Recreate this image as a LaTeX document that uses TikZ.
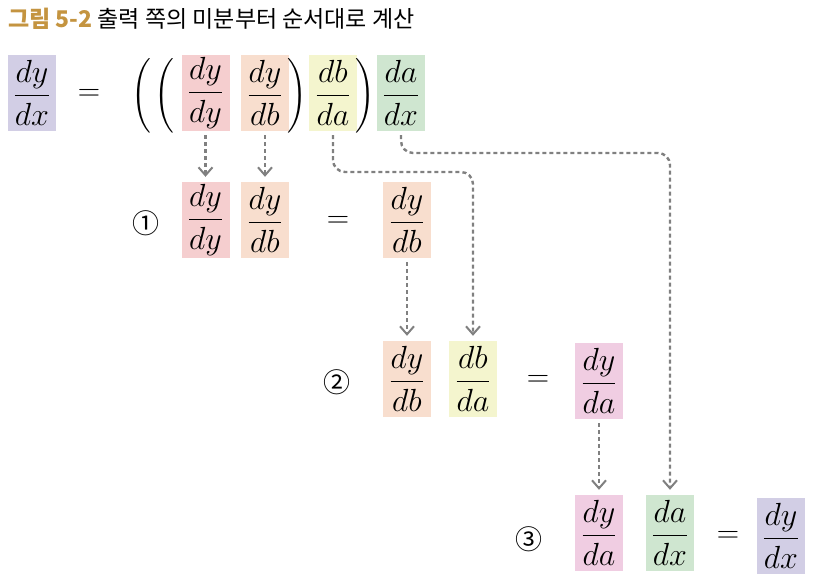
\RequirePackage{fix-cm}
\documentclass[tikz,border=0pt]{standalone}
\usepackage{amsmath}
\usepackage{fontspec}
\newfontfamily\kofont{Noto Sans CJK KR}
\usetikzlibrary{arrows.meta}
\definecolor{titlegold}{RGB}{196,148,64}
\definecolor{cdx}{RGB}{210,206,229}
\definecolor{cdy}{RGB}{245,206,207}
\definecolor{cdb}{RGB}{248,222,206}
\definecolor{cda}{RGB}{244,245,206}
\definecolor{cax}{RGB}{207,230,208}
\definecolor{cya}{RGB}{240,205,226}
\definecolor{flowgray}{RGB}{128,128,128}
\begin{document}
\begin{tikzpicture}[
    x=1pt, y=-1pt,
    frac/.style={minimum width=48pt, minimum height=76pt, inner sep=0pt,
      font=\fontsize{32}{38}\selectfont},
    eqsign/.style={inner sep=0pt, font=\fontsize{31}{36}\selectfont},
    paren/.style={inner sep=0pt, font=\fontsize{30}{34}\selectfont},
    stepno/.style={inner sep=0pt, font=\kofont\fontsize{27}{30}\selectfont},
    flow/.style={draw=flowgray, line width=2.4pt, dash pattern=on 4pt off 3pt,
      rounded corners=12pt, shorten <=4pt, shorten >=5pt,
      -{Straight Barb[length=8pt,width=14pt,line width=2pt]}}
  ]
    \useasboundingbox (0,0) rectangle (815,584);
    % title
    \node[anchor=base west, inner sep=0pt, font=\kofont\fontsize{23}{26}\selectfont]
      (title) at (8,27) {\textcolor{titlegold}{\bfseries 그림 5-2} 출력 쪽의 미분부터 순서대로 계산};

    % row 0: whole chain
    \node[frac, fill=cdx] (r0dx) at (32,93) {$\dfrac{dy}{dx}$};
    \node[eqsign] (r0eq) at (89,95) {$=$};
    \node[paren] (p1) at (141,96) {$\biggl($};
    \node[paren] (p2) at (164,96) {$\biggl($};
    \node[frac, fill=cdy] (r0dy) at (205.5,93) {$\dfrac{dy}{dy}$};
    \node[frac, fill=cdb] (r0db) at (265,93) {$\dfrac{dy}{db}$};
    \node[paren] (p3) at (297,96) {$\biggr)$};
    \node[frac, fill=cda] (r0da) at (333,93) {$\dfrac{db}{da}$};
    \node[paren] (p4) at (365,96) {$\biggr)$};
    \node[frac, fill=cax] (r0ax) at (401,93) {$\dfrac{da}{dx}$};

    % row 1
    \node[stepno] (s1) at (146,223) {①};
    \node[frac, fill=cdy] (r1dy) at (205.5,220) {$\dfrac{dy}{dy}$};
    \node[frac, fill=cdb] (r1db) at (265,220) {$\dfrac{dy}{db}$};
    \node[eqsign] (r1eq) at (338,222) {$=$};
    \node[frac, fill=cdb] (r1res) at (407,220) {$\dfrac{dy}{db}$};

    % row 2
    \node[stepno] (s2) at (337,382) {②};
    \node[frac, fill=cdb] (r2db) at (407,379) {$\dfrac{dy}{db}$};
    \node[frac, fill=cda] (r2da) at (473,379) {$\dfrac{db}{da}$};
    \node[eqsign] (r2eq) at (538,381) {$=$};
    \node[frac, fill=cya] (r2res) at (599,381) {$\dfrac{dy}{da}$};

    % row 3
    \node[stepno] (s3) at (529,539) {③};
    \node[frac, fill=cya] (r3ya) at (599,533) {$\dfrac{dy}{da}$};
    \node[frac, fill=cax] (r3ax) at (670,533) {$\dfrac{da}{dx}$};
    \node[eqsign] (r3eq) at (728,537) {$=$};
    \node[frac, fill=cdx] (r3res) at (781,536) {$\dfrac{dy}{dx}$};

    % connectors
    \coordinate (bendda) at (400,172);
    \coordinate (bendax) at (500,153);
    \draw[flow] (r0dy.south) -- (r1dy.north);
    \draw[flow] (r0db.south) -- (r1db.north);
    \draw[flow] (r0da.south) |- (bendda) -| (r2da.north);
    \draw[flow] (r0ax.south) |- (bendax) -| (r3ax.north);
    \draw[flow] (r1res.south) -- (r2db.north);
    \draw[flow] (r2res.south) -- (r3ya.north);
\end{tikzpicture}
\end{document}
